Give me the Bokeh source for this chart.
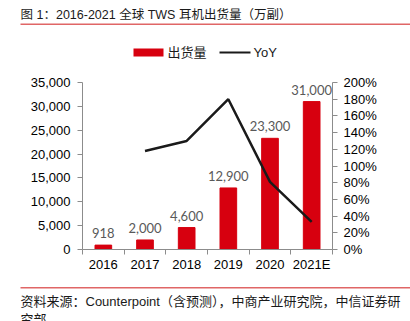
from bokeh.plotting import figure
from bokeh.layouts import column
from bokeh.models import (ColumnDataSource, LinearAxis, Range1d, FixedTicker, LabelSet,
                          NumeralTickFormatter, CustomJSTickFormatter)
from bokeh.core.properties import value
from bokeh.embed import file_html
from bokeh.resources import INLINE

years = ["2016", "2017", "2018", "2019", "2020", "2021E"]
shipments = [918, 2000, 4600, 12900, 23300, 31000]
yoy = [float("nan"), 118, 130, 180, 81, 33]
series_names = ["出货量", "YoY"]
title_text = "图 1：2016-2021 全球 TWS 耳机出货量（万副）"
source_lines = ["资料来源：Counterpoint（含预测），中商产业研究院，中信证券研", "究部"]

RED = "#D7000F"
LINE_RED = "#E06666"
FONT = "'Liberation Sans', 'Noto Sans CJK SC'"
W = 410
TOP_H, MAIN_H, BOT_H = 62, 221, 38


def aux_fig(h):
    f = figure(width=W, height=h, output_backend="svg", toolbar_location=None,
               x_range=Range1d(0, W), y_range=Range1d(h, 0),
               x_axis_location=None, y_axis_location=None, min_border=0,
               frame_align=False)
    f.outline_line_color = None
    f.grid.visible = False
    f.border_fill_color = "white"
    return f


def txt(f, x, y, s, size="13px", color="#1a1a1a"):
    f.text(x=[x], y=[y], text=[s], text_baseline="middle", text_align="left",
           text_font=value(FONT), text_font_size=size, text_color=color)


# ---- top: title + legend
top = aux_fig(TOP_H)
txt(top, 20, 14, title_text, size="12.5px")
top.quad(left=[20], right=[W], top=[23], bottom=[24.5], fill_color=LINE_RED, line_color=None)
top.quad(left=[133], right=[163], top=[48], bottom=[56], fill_color=RED, line_color=None)
txt(top, 167, 52, series_names[0])
top.quad(left=[219], right=[250], top=[51], bottom=[53], fill_color="#1a1a1a", line_color=None)
txt(top, 253, 52, series_names[1])

# ---- main chart
xs = [i + 0.5 for i in range(len(years))]
src = ColumnDataSource(dict(x=xs, ship=shipments, yoy=yoy,
                            lab=[f"{v:,}" for v in shipments]))

FL, FR, FT, FB = 82, 78, 20, 34
p = figure(width=W, height=MAIN_H, output_backend="svg", toolbar_location=None,
           x_range=Range1d(0, len(years)), y_range=Range1d(0, 35000),
           min_border_left=FL, min_border_right=FR, min_border_top=FT, min_border_bottom=FB,
           frame_align=False)
p.outline_line_color = None
p.grid.visible = False
p.border_fill_color = "white"
p.extra_y_ranges = {"pct": Range1d(0, 200)}

p.vbar(x="x", top="ship", width=0.4, color=RED, source=src)
p.line(x="x", y="yoy", y_range_name="pct", line_color="#1a1a1a", line_width=2.5, source=src)

p.add_layout(LabelSet(x="x", y="ship", text="lab", source=src, y_offset=7,
                      text_align="center", text_baseline="bottom",
                      text_font=value("Lato"), text_font_size="13px", text_color="#595959"))

AX = "#8c8c8c"
xa = p.xaxis[0]
xa.ticker = FixedTicker(ticks=xs, minor_ticks=list(range(len(years) + 1)))
xa.major_label_overrides = {x: y for x, y in zip(xs, years)}
xa.major_tick_line_color = None
xa.major_tick_out = 0
xa.minor_tick_out = 5
xa.minor_tick_in = 0
xa.minor_tick_line_color = AX
xa.axis_line_color = AX
xa.major_label_standoff = 2
xa.major_label_text_font = FONT
xa.major_label_text_font_size = "13px"
xa.major_label_text_color = "#000000"

ya = p.yaxis[0]
ya.ticker = FixedTicker(ticks=list(range(0, 35001, 5000)))
ya.formatter = NumeralTickFormatter(format="0,0")
ya.minor_tick_line_color = None
ya.major_tick_out = 5
ya.major_tick_in = 0
ya.axis_line_color = AX
ya.major_tick_line_color = AX
ya.major_label_standoff = 7
ya.major_label_text_font = FONT
ya.major_label_text_font_size = "13px"
ya.major_label_text_color = "#000000"

ra = LinearAxis(y_range_name="pct", ticker=FixedTicker(ticks=list(range(0, 201, 20))),
                formatter=CustomJSTickFormatter(code="return tick.toFixed(0) + '%';"))
ra.minor_tick_line_color = None
ra.major_tick_out = 5
ra.major_tick_in = 0
ra.axis_line_color = AX
ra.major_tick_line_color = AX
ra.major_label_standoff = 6
ra.major_label_text_font = FONT
ra.major_label_text_font_size = "13px"
ra.major_label_text_color = "#000000"
p.add_layout(ra, "right")

# ---- bottom: source
bot = aux_fig(BOT_H)
bot.quad(left=[20], right=[W], top=[3.5], bottom=[5], fill_color=LINE_RED, line_color=None)
txt(bot, 20, 18, source_lines[0])
txt(bot, 20, 36, source_lines[1])

layout = column(top, p, bot, spacing=0)
open("out.html", "w").write(file_html(layout, INLINE))
